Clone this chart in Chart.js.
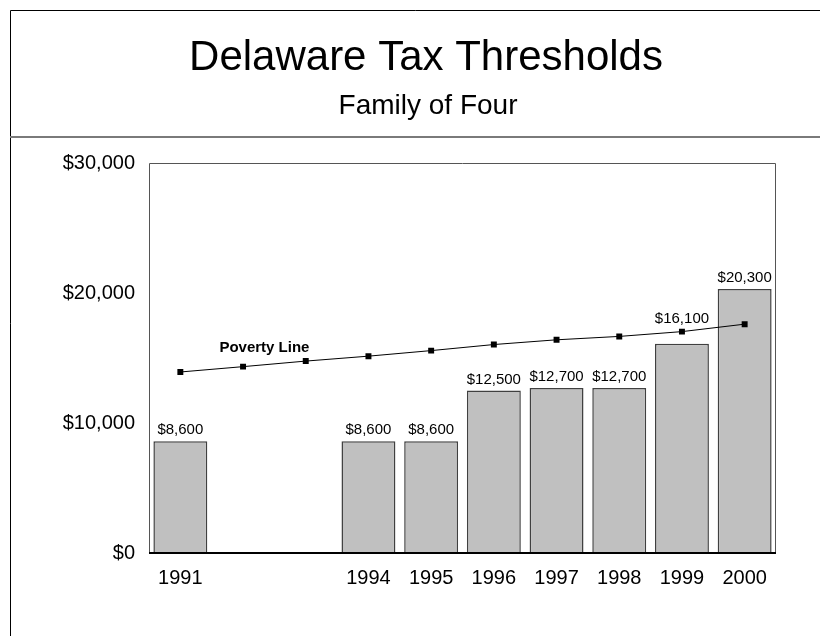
<!DOCTYPE html>
<html>
<head>
<meta charset="utf-8">
<script src="https://cdn.jsdelivr.net/npm/chart.js@4.4.1/dist/chart.umd.min.js"></script>
<style>
  html, body { margin: 0; padding: 0; background: #fff; }
  #wrap { width: 820px; height: 636px; }
</style>
</head>
<body>
<div id="wrap"><canvas id="chart" width="820" height="636"></canvas></div>
<script>
// Data
const years = ['1991', '1992', '1993', '1994', '1995', '1996', '1997', '1998', '1999', '2000'];
const yearTicks = ['1991', '', '', '1994', '1995', '1996', '1997', '1998', '1999', '2000'];
const thresholds = [8600, null, null, 8600, 8600, 12500, 12700, 12700, 16100, 20300];
const povertyLine = [13924, 14335, 14763, 15141, 15569, 16036, 16400, 16660, 17029, 17603];
const yTicks = [0, 10000, 20000, 30000];

const FONT = "'Liberation Sans', Arial, Helvetica, sans-serif";
const money = v => '$' + v.toLocaleString('en-US');

// page frame, titles, plot box and text labels
const framePlugin = {
  id: 'frame',
  beforeDraw(chart) {
    const ctx = chart.ctx;
    ctx.save();
    ctx.strokeStyle = '#000';
    ctx.lineWidth = 1;
    ctx.beginPath();
    ctx.moveTo(10.5, 636);
    ctx.lineTo(10.5, 10.5);
    ctx.lineTo(820, 10.5);
    ctx.stroke();
    ctx.strokeStyle = '#7a7a7a';
    ctx.lineWidth = 2;
    ctx.beginPath();
    ctx.moveTo(10, 137);
    ctx.lineTo(820, 137);
    ctx.stroke();

    ctx.fillStyle = '#000';
    ctx.textAlign = 'center';
    ctx.textBaseline = 'middle';
    ctx.font = '42px ' + FONT;
    ctx.fillText('Delaware Tax Thresholds', 426, 58);
    ctx.font = '28px ' + FONT;
    ctx.fillText('Family of Four', 428, 106);
    ctx.restore();
  },
  afterDatasetsDraw(chart) {
    const { ctx, chartArea: a } = chart;
    ctx.save();
    // plot box
    ctx.strokeStyle = '#555';
    ctx.lineWidth = 1;
    ctx.beginPath();
    ctx.moveTo(a.left + 0.5, a.bottom);
    ctx.lineTo(a.left + 0.5, a.top + 0.5);
    ctx.lineTo(a.right - 0.5, a.top + 0.5);
    ctx.lineTo(a.right - 0.5, a.bottom);
    ctx.stroke();
    ctx.strokeStyle = '#000';
    ctx.lineWidth = 2;
    ctx.beginPath();
    ctx.moveTo(a.left, a.bottom);
    ctx.lineTo(a.right, a.bottom);
    ctx.stroke();

    // value labels over the bars
    const bars = chart.getDatasetMeta(0).data;
    const pts = chart.getDatasetMeta(1).data;
    ctx.fillStyle = '#000';
    ctx.font = '15px ' + FONT;
    ctx.textAlign = 'center';
    ctx.textBaseline = 'middle';
    bars.forEach((bar, i) => {
      if (thresholds[i] == null) return;
      let y = bar.y - 11;
      const py = pts[i].y;
      if (py < bar.y && py > bar.y - 26) y = py - 13; // keep clear of the line
      ctx.fillText(money(thresholds[i]), bar.x, y);
    });

    // line label
    ctx.font = 'bold 15px ' + FONT;
    ctx.fillText('Poverty Line', (pts[1].x + pts[2].x) / 2 - 10, pts[1].y - 19);
    ctx.restore();
  }
};

new Chart(document.getElementById('chart'), {
  data: {
    labels: years,
    datasets: [
      {
        type: 'bar',
        label: 'Tax Threshold',
        data: thresholds,
        backgroundColor: '#c0c0c0',
        borderColor: '#404040',
        borderWidth: 1.5,
        categoryPercentage: 1,
        barPercentage: 0.86,
        order: 2
      },
      {
        type: 'line',
        label: 'Poverty Line',
        data: povertyLine,
        borderColor: '#000',
        borderWidth: 1,
        pointStyle: 'rect',
        pointRadius: 4.2,
        pointBackgroundColor: '#000',
        pointBorderWidth: 0,
        tension: 0,
        order: 1
      }
    ]
  },
  options: {
    responsive: false,
    animation: false,
    layout: { padding: { left: 0, right: 44, top: 163, bottom: 0 } },
    plugins: {
      legend: { display: false },
      tooltip: { enabled: false },
      title: { display: false }
    },
    scales: {
      x: {
        grid: { display: false },
        border: { display: false },
        ticks: {
          color: '#000',
          font: { family: FONT, size: 20 },
          padding: 5,
          maxRotation: 0,
          autoSkip: false,
          callback: (v, i) => yearTicks[i]
        },
        afterFit: s => { s.height = 83; }
      },
      y: {
        min: 0,
        max: 30000,
        grid: { display: false },
        border: { display: false },
        afterBuildTicks: s => { s.ticks = yTicks.map(v => ({ value: v })); },
        ticks: {
          color: '#000',
          font: { family: FONT, size: 20 },
          padding: 6,
          callback: v => money(v)
        },
        afterFit: s => { s.width = 149; }
      }
    }
  },
  plugins: [framePlugin]
});
</script>
</body>
</html>
